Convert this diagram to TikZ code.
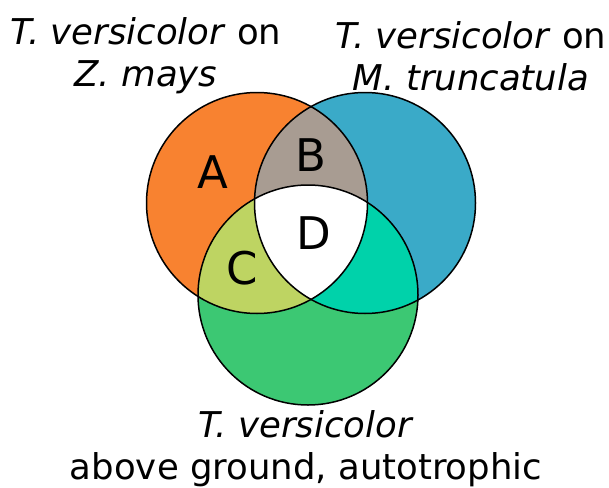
\documentclass[tikz,border=0pt]{standalone}
\usepackage{fontspec}
\setmainfont{DejaVu Sans}
\definecolor{setA}{RGB}{248,130,48}
\definecolor{setB}{RGB}{58,170,200}
\definecolor{setC}{RGB}{60,200,115}
\definecolor{setAB}{RGB}{168,156,146}
\definecolor{setAC}{RGB}{190,212,98}
\definecolor{setBC}{RGB}{0,210,170}
\tikzset{
  title/.style={align=center, font=\fontsize{35.5}{42}\selectfont, inner sep=0pt},
  region/.style={font=\fontsize{45}{45}\selectfont, inner sep=0pt},
  rim/.style={draw=black, line width=1.5pt}
}
\begin{document}
\begin{tikzpicture}[x=1pt, y=-1pt]
\useasboundingbox (0,0) rectangle (609,487);
\def\circA{(257,203) circle (110.5)}
\def\circB{(365,203) circle (110.5)}
\def\circC{(308,295) circle (110)}
% single sets
\fill[setA] \circA;
\fill[setB] \circB;
\fill[setC] \circC;
% pairwise overlaps
\begin{scope}
  \clip \circA;
  \fill[setAB] \circB;
  \fill[setAC] \circC;
\end{scope}
\begin{scope}
  \clip \circB;
  \fill[setBC] \circC;
\end{scope}
% triple overlap
\begin{scope}
  \clip \circA;
  \clip \circB;
  \fill[white] \circC;
\end{scope}
% outlines
\draw[rim] \circA;
\draw[rim] \circB;
\draw[rim] \circC;
% region labels
\node[region] (lA) at (213,172) {A};
\node[region] (lB) at (311,155) {B};
\node[region] (lC) at (242,268) {C};
\node[region] (lD) at (314,233) {D};
% set titles
\node[title] (tA) at (146,56) {\textit{T. versicolor} on\\ \textit{Z. mays}};
\node[title] (tB) at (471,56) {\textit{T. versicolor} on\\ \textit{M. truncatula}};
\node[title] (tC) at (306,449) {\textit{T. versicolor}\\ above ground, autotrophic};
\end{tikzpicture}
\end{document}
